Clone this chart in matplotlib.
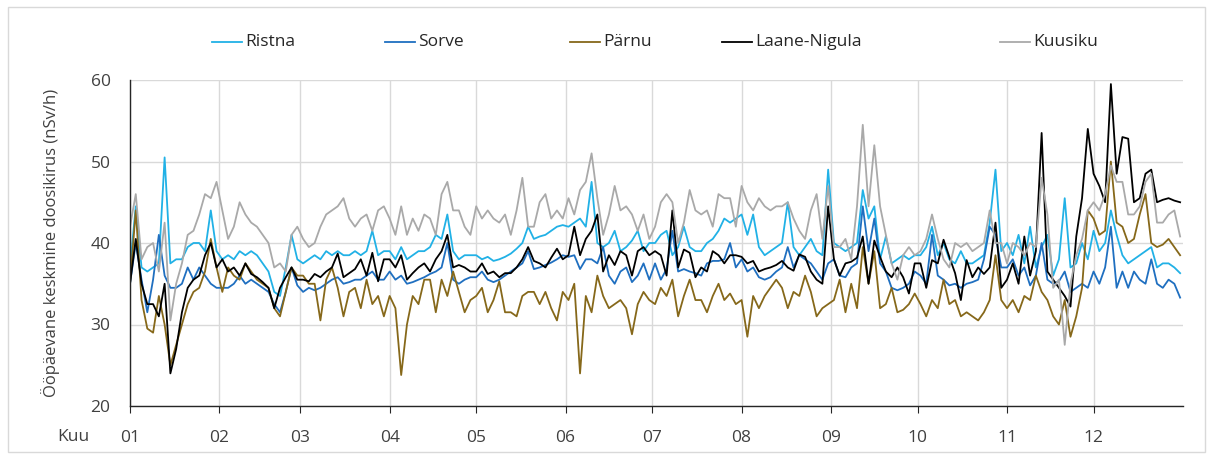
import numpy as np
import matplotlib
matplotlib.use("Agg")
import matplotlib.pyplot as plt
from matplotlib.patches import Rectangle
from matplotlib.lines import Line2D

plt.rcParams['font.family'] = ['Open Sans', 'DejaVu Sans']

# day-of-year positions (every second day)
days = np.arange(0, 365, 2)
month_starts = [0, 31, 59, 90, 120, 151, 181, 212, 243, 273, 304, 334]
month_labels = ["01", "02", "03", "04", "05", "06", "07", "08", "09", "10", "11", "12"]

ristna = (
    [37, 44.5, 37, 36.5, 37, 37.5, 50.5, 37.5, 38, 38, 39.5, 40, 40, 39, 44, 39]
    + [38, 38.5, 38, 39, 38.5, 39, 38.5, 37.5, 36.5, 34, 33.5, 37, 41, 38]
    + [37.5, 38, 38.5, 38, 39, 38.5, 39, 38.5, 38.5, 39, 38.5, 39, 41.5, 38.5, 39]
    + [39, 38, 39.5, 38, 38.5, 39, 39, 39.5, 41, 40.5, 43.5, 39, 38, 38.5, 38.5]
    + [38.5, 38, 38.3, 37.8, 38, 38.3, 38.7, 39.3, 40, 42, 40.5, 40.8, 41, 41.5, 42, 42.2]
    + [42, 42.5, 43, 42, 47.5, 40, 39.5, 40, 41.5, 39, 39.5, 40.3, 41.5, 39, 40]
    + [40, 41, 41.5, 38.5, 39.5, 42, 39.5, 39, 39, 40, 40.5, 41.5, 43, 42.5, 43]
    + [43.5, 41, 43.5, 39.5, 38.5, 39, 39.5, 40, 45, 39.5, 38.5, 39.5, 40.5, 39, 38.5, 49]
    + [40, 39.5, 39, 39.5, 40, 46.5, 43, 44.5, 38, 40.8, 37.5, 38, 38.5, 38, 38.5]
    + [38.5, 39.5, 42, 38.5, 40, 38, 37.5, 39, 37.5, 37.5, 38, 38.5, 42.5, 49, 39]
    + [40, 38.5, 41, 37.5, 42, 37, 39.5, 41, 36, 38, 45.5, 37, 37.5, 40, 38]
    + [41.5, 39, 40, 44, 41, 38.5, 37.5, 38, 38.5, 39, 39.5, 37, 37.5, 37.5, 37, 36.3]
)

sorve = (
    [35, 40, 35.5, 31.5, 35.5, 41, 36, 34.5, 34.5, 35, 37, 35.5, 37, 36, 35, 34.5]
    + [34.5, 34.5, 35, 36, 35, 35.5, 35, 34.5, 34, 32.5, 31.5, 34, 37, 34.8]
    + [34, 34.5, 34.2, 34.5, 35, 35.5, 35.8, 35, 35.2, 35.5, 35.5, 36, 36.5, 35.5, 35.5]
    + [36.5, 35.5, 36, 35, 35.2, 35.5, 35.8, 36.2, 36.5, 37, 40, 35.5, 35, 35.5, 35.8]
    + [35.8, 36.5, 35.5, 35.2, 35.5, 36, 36.5, 37, 37.5, 39, 36.8, 37, 37.3, 37.6, 38, 38.5]
    + [38.3, 38.5, 36.8, 38, 38, 37.5, 39.5, 36, 35, 36.5, 37, 35.2, 36, 37.5, 35.5]
    + [37.5, 35.5, 36.8, 41.5, 36.5, 36.8, 36.5, 36.3, 36, 37.5, 37.8, 37.8, 38, 40, 37]
    + [38, 36.5, 37, 35.8, 35.5, 35.8, 36.5, 37, 39.5, 37, 38.5, 38, 37.5, 36.5, 35.5, 37.5]
    + [38, 36, 35.8, 37, 37.5, 44.5, 39, 43, 37.5, 36.5, 34.5, 34.2, 34.5, 35, 36.5]
    + [36, 35, 41, 36, 35.5, 34.8, 35, 34.5, 35, 35.2, 35.5, 38, 42, 41, 37]
    + [37, 38, 36, 37, 34.8, 36, 40, 35.5, 35, 35.3, 36.5, 34, 34.5, 35, 34.5]
    + [36.5, 35, 37, 42, 34.5, 36.5, 34.5, 36.5, 35.5, 35, 38, 35, 34.5, 35.5, 35, 33.3]
)

parnu = (
    [35, 44, 33, 29.5, 29, 33.5, 30, 25, 27.5, 30, 32.5, 34, 34.5, 36.5, 40.5, 37]
    + [34, 37, 36, 35.5, 37.5, 36.5, 35.5, 35, 34.5, 32, 31, 34, 37, 36]
    + [36, 35, 35, 30.5, 35.5, 37, 34.5, 31, 34, 34.5, 32, 35.5, 32.5, 33.5, 31]
    + [33.5, 32, 23.8, 30, 33.5, 32.5, 35.5, 35.5, 31.5, 35.5, 33.5, 36.5, 34, 31.5, 33]
    + [33.5, 34.5, 31.5, 33, 35.3, 31.5, 31.5, 31, 33.5, 34, 34, 32.5, 34, 32, 30.5, 34]
    + [33, 35, 24, 33.5, 31.5, 36, 33.5, 32, 32.5, 33, 32, 28.8, 32.5, 34, 33]
    + [32.5, 34.5, 33.5, 35.5, 31, 33.5, 35.5, 33, 33, 31.5, 33.5, 35, 33, 33.8, 32.5]
    + [33, 28.5, 33.5, 32, 33.5, 34.5, 35.5, 34.5, 32, 34, 33.5, 36, 34, 31, 32, 32.5]
    + [33, 35.5, 31.5, 35, 32, 39.5, 35, 39, 32, 32.5, 34.5, 31.5, 31.8, 32.5, 33.8]
    + [32.5, 31, 33, 32, 35.5, 32.5, 33, 31, 31.5, 31, 30.5, 31.5, 33, 38.5, 33]
    + [32, 33, 31.5, 33.5, 33, 36, 34, 33, 31, 30, 33, 28.5, 31, 34.5, 44]
    + [43, 41, 41.5, 50, 42.5, 42, 40, 40.5, 43.5, 46, 40, 39.5, 39.8, 40.5, 39.5, 38.5]
)

laane_nigula = (
    [35, 40.5, 35, 32.5, 32.5, 31, 35, 24, 27, 31.5, 34.5, 35.5, 36, 38.5, 40, 37]
    + [38, 36.5, 37, 36, 37.5, 36.2, 35.8, 35.2, 34.5, 32, 34.5, 35.8, 37, 35.5]
    + [35.5, 35.3, 36.2, 35.8, 36.5, 37, 38.7, 35.8, 36.3, 36.8, 38, 36, 38.8, 35.3, 38]
    + [38, 37, 38.5, 35.5, 36.3, 37, 37.5, 36.5, 38, 39, 41, 37, 37.3, 37, 36.5]
    + [36.5, 37.5, 36.2, 36.5, 35.8, 36.3, 36.3, 37, 38, 39.5, 37.8, 37.5, 37, 38.2, 39.3, 38]
    + [38.5, 42, 38.5, 40.5, 41.5, 43.5, 36.5, 38.5, 37.3, 39, 38.5, 36, 39, 39.5, 38.5]
    + [39, 38.5, 36, 44, 37, 39.2, 38.8, 35.8, 37, 36.5, 39, 38.5, 37.5, 38.5, 38.5]
    + [38.3, 37.5, 37.8, 36.5, 36.8, 37, 37.3, 37.8, 37, 36.6, 38.6, 38.3, 36.5, 35.5, 35, 44.5]
    + [38, 36, 37.5, 37.7, 38.2, 40.8, 35, 40.3, 38.3, 36.5, 35.8, 37, 35.8, 33.8, 37.5]
    + [37.5, 34.5, 37.9, 37.5, 40.4, 38.3, 36.3, 33, 37.9, 35.8, 37, 36.2, 37, 42.5, 34.5]
    + [35.5, 37.5, 35, 40.8, 36, 39, 53.5, 36.5, 35.5, 34.5, 33.5, 32.2, 40.8, 45.5, 54]
    + [48.5, 47, 45, 59.5, 48.5, 53, 52.8, 45, 45.5, 48.5, 49, 45, 45.3, 45.5, 45.2, 45]
)

kuusiku = (
    [42, 46, 38, 39.5, 40, 36.5, 42.5, 30.5, 35, 37.5, 41, 41.5, 43.5, 46, 45.5, 47.5]
    + [44, 40.5, 42, 45, 43.5, 42.5, 42, 41, 40, 37, 37.5, 36.5, 41, 42]
    + [40.5, 39.5, 40, 42, 43.5, 44, 44.5, 45.5, 43, 42, 43, 43.5, 41.5, 44, 44.5]
    + [43, 41, 44.5, 41, 43, 41.5, 43.5, 43, 41, 46, 47.5, 44, 44, 42, 41]
    + [44.5, 43, 44, 43, 42.5, 43.5, 41, 44, 48, 42, 42, 45, 46, 43, 44, 43]
    + [45.5, 43.5, 46.5, 47.5, 51, 45.5, 41, 43.5, 47, 44, 44.5, 43.5, 41.5, 43.5, 40.5]
    + [42, 45, 46, 45, 40, 42.5, 46.5, 44, 43.5, 44, 42, 46, 45.5, 45.5, 42]
    + [47, 45, 44, 45.5, 44.5, 44, 44.5, 44.5, 45, 43, 41.5, 40.5, 44, 46, 40.5, 47]
    + [39.5, 39.5, 40.5, 38, 44.5, 54.5, 44.5, 52, 44.5, 41, 37.5, 35.5, 38.5, 39.5, 38.5]
    + [39, 40.5, 43.5, 40.5, 38, 37, 40, 39.5, 40, 39, 39.5, 40, 44, 40, 40]
    + [37.5, 40, 39.5, 38.5, 40, 39.5, 48, 43.5, 34.5, 35.5, 27.5, 35, 38.5, 40.5, 44]
    + [45, 44, 46, 49.5, 47.5, 47.5, 43.5, 43.5, 44.5, 47.5, 48.5, 42.5, 42.5, 43.5, 44, 40.8]
)

series_names = ["Ristna", "Sorve", "Pärnu", "Laane-Nigula", "Kuusiku"]
series_values = [ristna, sorve, parnu, laane_nigula, kuusiku]
series_colors = ["#21B1E6", "#1F6FC0", "#86681A", "#000000", "#A9A9A9"]

W, H = 1213, 459
fig = plt.figure(figsize=(W / 100, H / 100), dpi=100)
ax = fig.add_axes([130 / W, 1 - 406 / H, (1183 - 130) / W, (406 - 80) / H])

for name, vals, col in zip(series_names, series_values, series_colors):
    ax.plot(days, vals, color=col, lw=1.3, label=name)

ax.set_xlim(0, 365)
ax.set_ylim(20, 60)
ax.set_yticks([20, 30, 40, 50, 60])
ax.set_xticks(month_starts)
ax.set_xticklabels(month_labels)
ax.grid(True, color="#D9D9D9", lw=1.0)
ax.set_axisbelow(True)
for s in ["top", "right"]:
    ax.spines[s].set_visible(False)
for s in ["left", "bottom"]:
    ax.spines[s].set_color("#262626")
    ax.spines[s].set_linewidth(1.0)
ax.tick_params(axis="x", direction="out", length=5, color="#262626", labelsize=12.5,
               labelcolor="#404040", pad=12)
ax.tick_params(axis="y", length=0, labelsize=12.5, labelcolor="#404040", pad=14)
ax.set_ylabel("Ööpäevane keskmine doosikirus (nSv/h)", fontsize=12, color="#404040",
              labelpad=22)
ax.text(57 / W, 1 - 437 / H, "Kuu", transform=fig.transFigure, ha="left", va="center",
        fontsize=12.5, color="#404040")

# legend entries placed like the reference (top row)
legend_x = [212, 385, 570, 722, 1000]
legend_y = 1 - 42 / H
handles = ax.get_lines()
for lx, h in zip(legend_x, handles):
    fig.add_artist(Line2D([lx / W, (lx + 30) / W], [legend_y, legend_y],
                          transform=fig.transFigure, color=h.get_color(), lw=1.3))
    fig.text((lx + 33) / W, legend_y, h.get_label(), ha="left", va="center",
             fontsize=12.5, color="#262626")

fig.patches.append(Rectangle((8 / W, 7 / H), 1197 / W, 445 / H, transform=fig.transFigure,
                             fill=False, edgecolor="#D9D9D9", lw=1.0))

fig.savefig("out.png", dpi=100)
